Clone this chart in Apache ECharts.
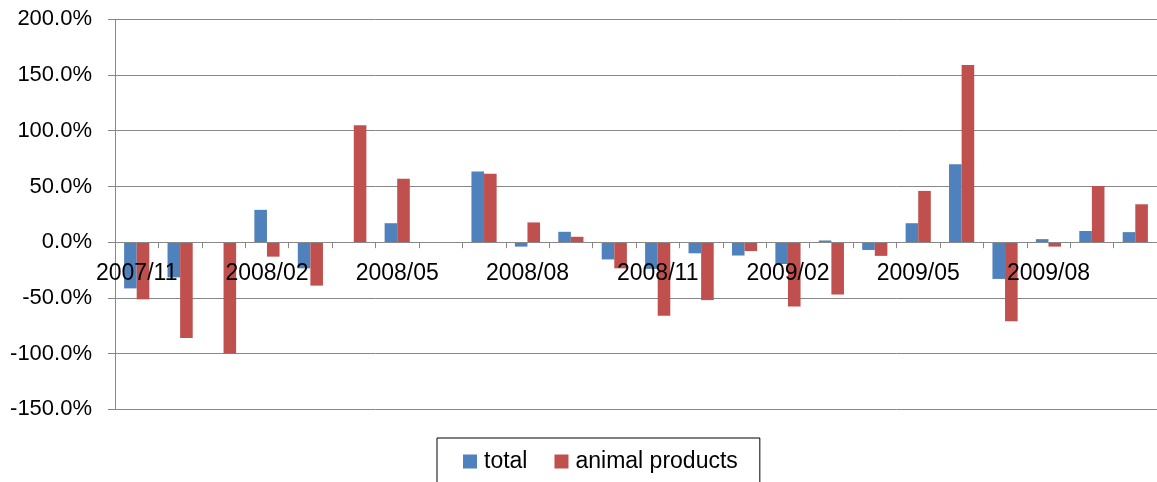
<!DOCTYPE html>
<html><head><meta charset="utf-8">
<script src="https://cdn.jsdelivr.net/npm/echarts@6/dist/echarts.min.js"></script>
<style>html,body{margin:0;padding:0;background:#fff}#c{width:1157px;height:482px}</style>
</head><body><div id="c"></div>
<script>
var categories = ['2007/11','2007/12','2008/01','2008/02','2008/03','2008/04','2008/05','2008/06','2008/07','2008/08','2008/09','2008/10','2008/11','2008/12','2009/01','2009/02','2009/03','2009/04','2009/05','2009/06','2009/07','2009/08','2009/09','2009/10'];
var totalValues = [-41.5, -31.6, 0, 29, -23.5, 0, 17, 0, 63.4, -4, 9.3, -15.5, -24, -10, -12, -19.6, 1.5, -7, 17, 70, -33, 2.7, 10, 9];
var animalValues = [-51.3, -86, -100, -13, -39, 105, 57, 0, 61.4, 17.7, 4.8, -23.5, -66, -52, -8, -57.7, -47, -12.3, 46, 159, -71, -4, 50.4, 34];
var yTicks = {min: -150, max: 200, interval: 50};

var W = 1157, H = 482;
var gridTop = 19.3, gridBottom = 72.7;
var gridH = H - gridTop - gridBottom;
// distance from grid bottom up to the zero line, derived from the value scale
var zeroOffset = gridH * (0 - yTicks.min) / (yTicks.max - yTicks.min);

var chart = echarts.init(document.getElementById('c'), null, {renderer: 'canvas'});
var font = 'Liberation Sans';
chart.setOption({
  animation: false,
  textStyle: {fontFamily: font},
  grid: {left: 115, right: -1, top: gridTop, bottom: gridBottom, containLabel: false},
  legend: {
    data: ['total', 'animal products'],
    left: 437, top: 438,
    orient: 'horizontal',
    itemWidth: 14, itemHeight: 14, itemGap: 27,
    icon: 'rect',
    borderColor: '#000', borderWidth: 1,
    padding: [12, 22, 40, 26],
    textStyle: {fontFamily: font, fontSize: 23, color: '#000', padding: [0, 0, 0, 2]}
  },
  xAxis: {
    type: 'category',
    data: categories,
    z: 10,
    position: 'bottom',
    offset: -zeroOffset,
    axisLine: {onZero: false, lineStyle: {color: '#878787', width: 1}},
    axisTick: {show: true, interval: 0, length: 6, lineStyle: {color: '#878787'}},
    axisLabel: {interval: 2, margin: 20, fontSize: 23, color: '#000', fontFamily: font},
    splitLine: {show: false}
  },
  yAxis: {
    type: 'value',
    min: yTicks.min, max: yTicks.max, interval: yTicks.interval,
    axisLine: {show: true, lineStyle: {color: '#878787'}},
    axisTick: {show: true, length: 7, lineStyle: {color: '#878787'}},
    axisLabel: {margin: 23, fontSize: 22, color: '#000', fontFamily: font,
      formatter: function (v) { return v.toFixed(1) + '%'; }},
    splitLine: {show: true, lineStyle: {color: '#878787', width: 1}}
  },
  series: [
    {name: 'total', type: 'bar', data: totalValues, barGap: '0%', barCategoryGap: '42%',
      itemStyle: {color: '#4F81BD'}},
    {name: 'animal products', type: 'bar', data: animalValues, barGap: '0%', barCategoryGap: '42%',
      itemStyle: {color: '#C0504D'}}
  ]
});
</script></body></html>
